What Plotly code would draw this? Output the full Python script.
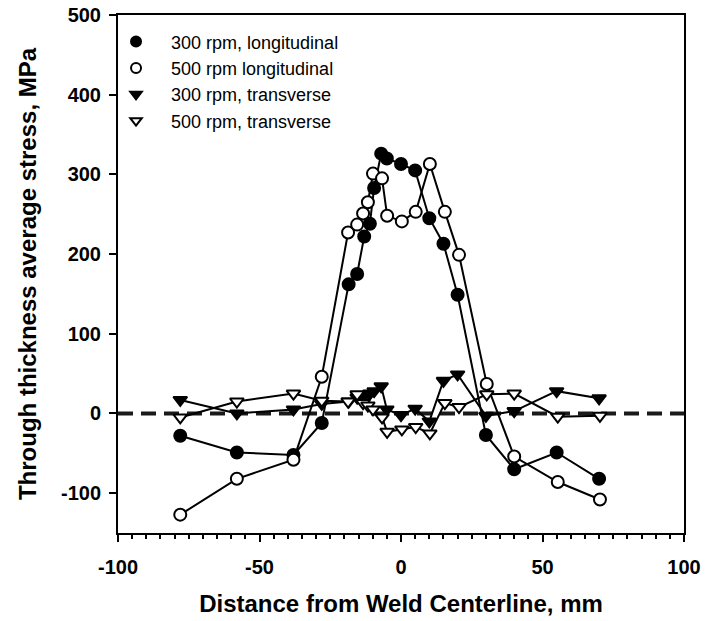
import plotly.graph_objects as go

# Distance from weld centreline (mm) and through-thickness average stress (MPa)
x_300_long = [-78, -58, -38, -28, -18.5, -15.5, -13, -11, -9.5, -7, -5, 0, 5, 10, 15, 20, 30, 40, 55, 70]
y_300_long = [-28, -49, -52, -12, 162, 175, 222, 238, 283, 326, 320, 313, 305, 245, 213, 149, -27, -70, -49, -82]

x_500_long = [-78, -58, -38, -28, -18.7, -15.5, -13.4, -11.7, -9.9, -6.7, -4.9, 0.3, 5.2, 10.2, 15.5, 20.5, 30.3, 40, 55.4, 70.3]
y_500_long = [-127, -82, -58, 46, 227, 237, 251, 265, 301, 295, 248, 241, 253, 313, 253, 199, 37, -54, -86, -108]

x_300_trans = x_300_long
y_300_trans = [17, 0, 5, 12, 15, 20, 22, 25, 28, 34, 5, -2, 6, -10, 41, 49, -3, 3, 28, 19]

x_500_trans = x_500_long
y_500_trans = [-5, 15, 25, 16, 15, 24, 13, 10, 5, -5, -23, -20, -17, -25, 13, 8, 24, 25, -4, -3]

series_names = ["300 rpm, longitudinal", "500 rpm longitudinal",
                "300 rpm, transverse", "500 rpm, transverse"]

x_ticks = [-100, -50, 0, 50, 100]
y_ticks = [-100, 0, 100, 200, 300, 400, 500]

FONT = "Liberation Sans, Arial, sans-serif"

styles = [
    dict(symbol="circle", color="black", size=12),
    dict(symbol="circle", color="white", size=12),
    dict(symbol="triangle-down", color="black", size=12),
    dict(symbol="triangle-down", color="white", size=12),
]
data = [
    (x_300_long, y_300_long),
    (x_500_long, y_500_long),
    (x_300_trans, y_300_trans),
    (x_500_trans, y_500_trans),
]

fig = go.Figure()

# zero-stress reference line
fig.add_hline(y=0, line=dict(color="#1a1a1a", width=4, dash="15px,8px"), layer="below")

for (xs, ys), st in zip(data, styles):
    fig.add_trace(go.Scatter(
        x=xs, y=ys, mode="lines+markers", showlegend=False,
        line=dict(color="black", width=2),
        marker=dict(symbol=st["symbol"], color=st["color"], size=st["size"],
                    line=dict(color="black", width=2)),
    ))

# marker-only legend entries
for name, st in zip(series_names, styles):
    fig.add_trace(go.Scatter(
        x=[None], y=[None], mode="markers", name=name,
        marker=dict(symbol=st["symbol"], color=st["color"], size=10,
                    line=dict(color="black", width=2)),
    ))

fig.update_layout(
    width=707, height=621,
    margin=dict(l=118, r=23, t=15, b=88),
    paper_bgcolor="white", plot_bgcolor="white",
    font=dict(family=FONT, color="black"),
    legend=dict(
        x=-0.03, y=0.984, xanchor="left", yanchor="top",
        bgcolor="rgba(0,0,0,0)", borderwidth=0,
        itemwidth=60, font=dict(size=18, family=FONT),
        tracegroupgap=0,
    ),
)

fig.update_xaxes(
    range=[-100, 100], tickvals=x_ticks, ticktext=[str(v) for v in x_ticks],
    ticks="outside", ticklen=7, tickwidth=2, tickcolor="black",
    minor=dict(dtick=5, ticks="outside", ticklen=4, tickwidth=1.5, tickcolor="black"),
    showline=True, linecolor="black", linewidth=2, mirror=True,
    showgrid=False, zeroline=False, automargin=False,
    tickfont=dict(size=20, family=FONT, weight="bold"),
    ticklabelstandoff=8,
    title=dict(text="Distance from Weld Centerline, mm",
               font=dict(size=24, family=FONT, weight="bold"), standoff=18),
)
fig.update_yaxes(
    range=[-150, 500], tickvals=y_ticks, ticktext=[str(v) for v in y_ticks],
    ticks="outside", ticklen=7, tickwidth=2, tickcolor="black",
    showline=True, linecolor="black", linewidth=2, mirror=True,
    showgrid=False, zeroline=False, automargin=False,
    tickfont=dict(size=20, family=FONT, weight="bold"),
    ticklabelstandoff=4,
    title=dict(text="Through thickness average stress, MPa",
               font=dict(size=24, family=FONT, weight="bold"), standoff=18),
)

fig.write_html("out.html")
